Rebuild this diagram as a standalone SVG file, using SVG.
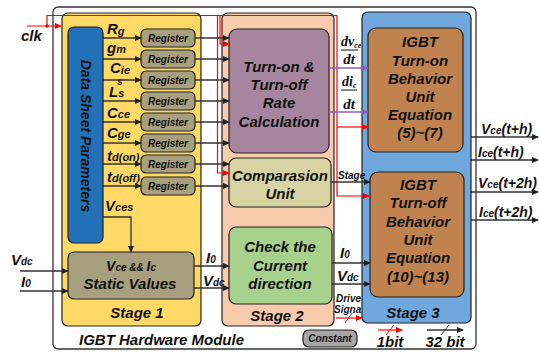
<svg xmlns="http://www.w3.org/2000/svg" width="539" height="352" viewBox="0 0 539 352">
  <defs>
    <style>
      .t { font-family: "Liberation Sans", Arial, sans-serif; font-weight: bold; font-style: italic; fill: #111; }
      .tm { font-size: 15px; text-anchor: middle; }
      .lbl { font-size: 15px; }
      .sub { font-size: 10px; }
      .reg rect { fill: #A89F7E; stroke: #222; stroke-width: 1.2; }
      .reg text { font-size: 10px; text-anchor: middle; }
      .wire { fill: none; stroke: #333; stroke-width: 1.3; }
      .clk { fill: none; stroke: #F00; stroke-width: 1.2; }
      .rate { fill: none; stroke: #8E5CC0; stroke-width: 1.5; }
      .frac { font-family: "Liberation Serif", "Times New Roman", serif; font-weight: bold; font-style: italic; fill: #111; }
    </style>
    <marker id="ah" viewBox="0 0 8 8" refX="7" refY="4" markerWidth="7" markerHeight="7" markerUnits="userSpaceOnUse" orient="auto">
      <path d="M0,0.5 L8,4 L0,7.5 Z" fill="#222"/>
    </marker>
    <marker id="ahr" viewBox="0 0 8 8" refX="7" refY="4" markerWidth="7" markerHeight="7" markerUnits="userSpaceOnUse" orient="auto">
      <path d="M0,0.5 L8,4 L0,7.5 Z" fill="#F00"/>
    </marker>
    <marker id="ahp" viewBox="0 0 8 8" refX="7" refY="4" markerWidth="7" markerHeight="7" markerUnits="userSpaceOnUse" orient="auto">
      <path d="M0,0.5 L8,4 L0,7.5 Z" fill="#8E5CC0"/>
    </marker>
  </defs>

  <!-- module outline -->
  <g id="module">
    <rect x="53" y="7" width="423" height="342" rx="5" fill="#fff" stroke="#333" stroke-width="1.3"/>
    <text class="t" x="79" y="345" font-size="15">IGBT Hardware Module</text>
  </g>

  <!-- stage backgrounds -->
  <g id="stage1">
    <rect x="62" y="13" width="139" height="313" rx="6" fill="#FFD966" stroke="#222" stroke-width="1.2"/>
    <text class="t tm" x="137" y="318">Stage 1</text>
  </g>
  <g id="stage2">
    <rect x="222" y="13" width="112" height="313" rx="6" fill="#F8CBAD" stroke="#222" stroke-width="1.2"/>
    <text class="t tm" x="277" y="321">Stage 2</text>
  </g>
  <g id="stage3">
    <rect x="362" y="12" width="109" height="311" rx="6" fill="#6FA8DC" stroke="#222" stroke-width="1.2"/>
    <text class="t tm" x="413" y="318">Stage 3</text>
  </g>

  <!-- data sheet parameter block -->
  <g id="datasheet">
    <rect x="68" y="27" width="35" height="216" rx="6" fill="#2372B7" stroke="#222" stroke-width="1.2"/>
    <text class="t" font-size="14" text-anchor="middle" transform="translate(81,136) rotate(90)">Data Sheet Parameters</text>
  </g>

  <!-- parameter labels -->
  <g id="params">
    <text class="t lbl" x="107" y="34">R<tspan font-size="11" dy="1">g</tspan></text>
    <text class="t lbl" x="107" y="53">g<tspan font-size="11">m</tspan></text>
    <text class="t lbl" x="110" y="73">C<tspan font-size="11" dy="1">ie</tspan><tspan class="sub" x="117" y="85">s</tspan></text>
    <text class="t lbl" x="109" y="97">L<tspan font-size="11">s</tspan></text>
    <text class="t lbl" x="107" y="118">C<tspan font-size="11">ce</tspan></text>
    <text class="t lbl" x="107" y="138">C<tspan font-size="11">ge</tspan></text>
    <text class="t lbl" x="107" y="161">t<tspan font-size="11">d(on)</tspan></text>
    <text class="t lbl" x="107" y="182">t<tspan font-size="11">d(off)</tspan></text>
    <text class="t lbl" x="105" y="211">V<tspan font-size="11">ces</tspan></text>
  </g>

  <!-- registers -->
  <g id="reg1" class="reg"><rect x="141" y="29" width="54" height="18" rx="5"/><text class="t" x="168" y="42">Register</text></g>
  <g id="reg2" class="reg"><rect x="141" y="50" width="54" height="18" rx="5"/><text class="t" x="168" y="63">Register</text></g>
  <g id="reg3" class="reg"><rect x="141" y="71" width="54" height="18" rx="5"/><text class="t" x="168" y="84">Register</text></g>
  <g id="reg4" class="reg"><rect x="141" y="92" width="54" height="18" rx="5"/><text class="t" x="168" y="105">Register</text></g>
  <g id="reg5" class="reg"><rect x="141" y="113" width="54" height="18" rx="5"/><text class="t" x="168" y="126">Register</text></g>
  <g id="reg6" class="reg"><rect x="141" y="134" width="54" height="18" rx="5"/><text class="t" x="168" y="147">Register</text></g>
  <g id="reg7" class="reg"><rect x="141" y="155" width="54" height="18" rx="5"/><text class="t" x="168" y="168">Register</text></g>
  <g id="reg8" class="reg"><rect x="141" y="177" width="54" height="18" rx="5"/><text class="t" x="168" y="190">Register</text></g>

  <!-- static values -->
  <g id="static">
    <rect x="68" y="252" width="126" height="47" rx="6" fill="#A89F7E" stroke="#222" stroke-width="1.2"/>
    <text class="t" x="131" y="271" text-anchor="middle" font-size="14">V<tspan font-size="10">ce &amp;&amp; </tspan>I<tspan font-size="10">c</tspan></text>
    <text class="t tm" x="130" y="289">Static Values</text>
  </g>

  <!-- stage 2 units -->
  <g id="ratecalc">
    <rect x="229" y="29" width="100" height="124" rx="8" fill="#A6869F" stroke="#222" stroke-width="1.2"/>
    <text class="t tm" x="279" y="72">Turn-on &amp;</text>
    <text class="t tm" x="279" y="90">Turn-off</text>
    <text class="t tm" x="279" y="108">Rate</text>
    <text class="t tm" x="279" y="127">Calculation</text>
  </g>
  <g id="compare">
    <rect x="229" y="158" width="102" height="49" rx="7" fill="#D7D3A3" stroke="#222" stroke-width="1.2"/>
    <text class="t tm" x="280" y="181">Comparasion</text>
    <text class="t tm" x="280" y="199">Unit</text>
  </g>
  <g id="checkdir">
    <rect x="229" y="227" width="103" height="77" rx="7" fill="#A9D18E" stroke="#222" stroke-width="1.2"/>
    <text class="t tm" x="280" y="252">Check the</text>
    <text class="t tm" x="280" y="271">Current</text>
    <text class="t tm" x="280" y="289">direction</text>
  </g>

  <!-- stage 3 units -->
  <g id="turnon">
    <rect x="368" y="28" width="95" height="124" rx="8" fill="#C0834F" stroke="#222" stroke-width="1.2"/>
    <text class="t tm" x="420" y="47">IGBT</text>
    <text class="t tm" x="420" y="66">Turn-on</text>
    <text class="t tm" x="420" y="84">Behavior</text>
    <text class="t tm" x="420" y="102">Unit</text>
    <text class="t tm" x="420" y="120">Equation</text>
    <text class="t tm" x="420" y="138">(5)~(7)</text>
  </g>
  <g id="turnoff">
    <rect x="370" y="172" width="94" height="125" rx="8" fill="#C0834F" stroke="#222" stroke-width="1.2"/>
    <text class="t tm" x="418" y="190">IGBT</text>
    <text class="t tm" x="418" y="208">Turn-off</text>
    <text class="t tm" x="418" y="227">Behavior</text>
    <text class="t tm" x="418" y="245">Unit</text>
    <text class="t tm" x="418" y="263">Equation</text>
    <text class="t tm" x="418" y="282">(10)~(13)</text>
  </g>

  <!-- legend -->
  <g id="constant">
    <rect x="303" y="330" width="54" height="17" rx="6" fill="#A6A6A6" stroke="#222" stroke-width="1.2"/>
    <text class="t" x="330" y="342" font-size="10" text-anchor="middle">Constant</text>
  </g>
  <g id="legend">
    <line class="clk" x1="378" y1="330" x2="402" y2="330" marker-end="url(#ahr)"/>
    <line x1="386" y1="335" x2="394" y2="325" stroke="#F00" stroke-width="1"/>
    <text class="t" x="390" y="347" font-size="15" text-anchor="middle">1bit</text>
    <line class="wire" x1="427" y1="330" x2="463" y2="330" marker-end="url(#ah)"/>
    <line x1="441" y1="335" x2="449" y2="325" stroke="#222" stroke-width="1"/>
    <text class="t" x="445" y="347" font-size="15" text-anchor="middle">32 bit</text>
  </g>

  <!-- connectors -->
  <g id="connectors">
    <!-- clock -->
    <text class="t" x="21" y="41" font-size="15">clk</text>
    <path class="clk" d="M27,26 H61" marker-end="url(#ahr)"/>
    <path class="clk" d="M47,26 V15.5 H337 V196 H369" marker-end="url(#ahr)"/>
    <circle cx="47" cy="26" r="1.8" fill="#F00"/>
    <path class="clk" d="M220,15.5 V44 H229" marker-end="url(#ahr)"/>
    <path class="clk" d="M217.5,15.5 V173 H229" marker-end="url(#ahr)"/>
    <path class="clk" d="M337,127 H368" marker-end="url(#ahr)"/>

    <!-- parameters into registers -->
    <line class="wire" x1="103" y1="38" x2="141" y2="38" marker-end="url(#ah)"/>
    <line class="wire" x1="103" y1="59" x2="141" y2="59" marker-end="url(#ah)"/>
    <line class="wire" x1="103" y1="80" x2="141" y2="80" marker-end="url(#ah)"/>
    <line class="wire" x1="103" y1="101" x2="141" y2="101" marker-end="url(#ah)"/>
    <line class="wire" x1="103" y1="122" x2="141" y2="122" marker-end="url(#ah)"/>
    <line class="wire" x1="103" y1="143" x2="141" y2="143" marker-end="url(#ah)"/>
    <line class="wire" x1="103" y1="164" x2="141" y2="164" marker-end="url(#ah)"/>
    <line class="wire" x1="103" y1="186" x2="141" y2="186" marker-end="url(#ah)"/>

    <!-- registers into stage 2 -->
    <line class="wire" x1="195" y1="38" x2="229" y2="38" marker-end="url(#ah)"/>
    <line class="wire" x1="195" y1="59" x2="229" y2="59" marker-end="url(#ah)"/>
    <line class="wire" x1="195" y1="80" x2="229" y2="80" marker-end="url(#ah)"/>
    <line class="wire" x1="195" y1="101" x2="229" y2="101" marker-end="url(#ah)"/>
    <line class="wire" x1="195" y1="122" x2="229" y2="122" marker-end="url(#ah)"/>
    <line class="wire" x1="195" y1="143" x2="229" y2="143" marker-end="url(#ah)"/>
    <line class="wire" x1="195" y1="164" x2="229" y2="164" marker-end="url(#ah)"/>
    <line class="wire" x1="195" y1="186" x2="229" y2="186" marker-end="url(#ah)"/>

    <!-- Vces into static values -->
    <path class="wire" d="M103,217 H131 V252" marker-end="url(#ah)"/>

    <!-- external inputs -->
    <text class="t" x="11" y="265" font-size="15">V<tspan font-size="10">dc</tspan></text>
    <line class="wire" x1="20" y1="271" x2="68" y2="271" marker-end="url(#ah)"/>
    <text class="t" x="21" y="287" font-size="15">I<tspan font-size="10">0</tspan></text>
    <line class="wire" x1="20" y1="291" x2="68" y2="291" marker-end="url(#ah)"/>

    <!-- static values into current check -->
    <text class="t" x="206" y="263" font-size="15">I<tspan font-size="10">0</tspan></text>
    <line class="wire" x1="194" y1="266" x2="229" y2="266" marker-end="url(#ah)"/>
    <text class="t" x="203" y="286" font-size="15">V<tspan font-size="10">dc</tspan></text>
    <line class="wire" x1="194" y1="288" x2="229" y2="288" marker-end="url(#ah)"/>

    <!-- current check into turn-off unit -->
    <text class="t" x="340" y="258" font-size="15">I<tspan font-size="10">0</tspan></text>
    <line class="wire" x1="332" y1="263" x2="370" y2="263" marker-end="url(#ah)"/>
    <text class="t" x="337" y="281" font-size="15">V<tspan font-size="10">dc</tspan></text>
    <line class="wire" x1="332" y1="284" x2="370" y2="284" marker-end="url(#ah)"/>

    <!-- drive signal -->
    <text class="t" x="336" y="302" font-size="10">Drive</text>
    <text class="t" x="334" y="313" font-size="10">Signa</text>
    <line class="clk" x1="336" y1="318" x2="362" y2="318" marker-end="url(#ahr)"/>
    <line x1="345" y1="323" x2="352" y2="313" stroke="#F00" stroke-width="1"/>

    <!-- stage flag -->
    <text class="t" x="338" y="179" font-size="10">Stage</text>
    <line class="wire" x1="331" y1="182" x2="370" y2="182" marker-end="url(#ah)"/>

    <!-- rate outputs -->
    <text class="frac" x="341" y="46" font-size="14">dv<tspan font-size="8" dy="2">ce</tspan></text>
    <line x1="341" y1="50" x2="358" y2="50" stroke="#111" stroke-width="1"/>
    <text class="frac" x="349" y="64" font-size="15" text-anchor="middle">dt</text>
    <line class="rate" x1="329" y1="68" x2="368" y2="68" marker-end="url(#ahp)"/>
    <text class="frac" x="342" y="86" font-size="14">di<tspan font-size="8" dy="2">c</tspan></text>
    <line x1="341" y1="90" x2="357" y2="90" stroke="#111" stroke-width="1"/>
    <text class="frac" x="349" y="109" font-size="15" text-anchor="middle">dt</text>
    <line class="rate" x1="329" y1="112" x2="368" y2="112" marker-end="url(#ahp)"/>

    <!-- module outputs -->
    <text class="t" x="481" y="134" font-size="14">V<tspan font-size="10">ce</tspan>(t+h)</text>
    <line class="wire" x1="471" y1="137" x2="538" y2="137" marker-end="url(#ah)"/>
    <text class="t" x="478" y="157" font-size="14">I<tspan font-size="10">ce</tspan>(t+h)</text>
    <line class="wire" x1="471" y1="160" x2="538" y2="160" marker-end="url(#ah)"/>
    <text class="t" x="478" y="188" font-size="14">V<tspan font-size="10">ce</tspan>(t+2h)</text>
    <line class="wire" x1="471" y1="192" x2="538" y2="192" marker-end="url(#ah)"/>
    <text class="t" x="479" y="217" font-size="14">I<tspan font-size="10">ce</tspan>(t+2h)</text>
    <line class="wire" x1="471" y1="220" x2="538" y2="220" marker-end="url(#ah)"/>
  </g>
</svg>
